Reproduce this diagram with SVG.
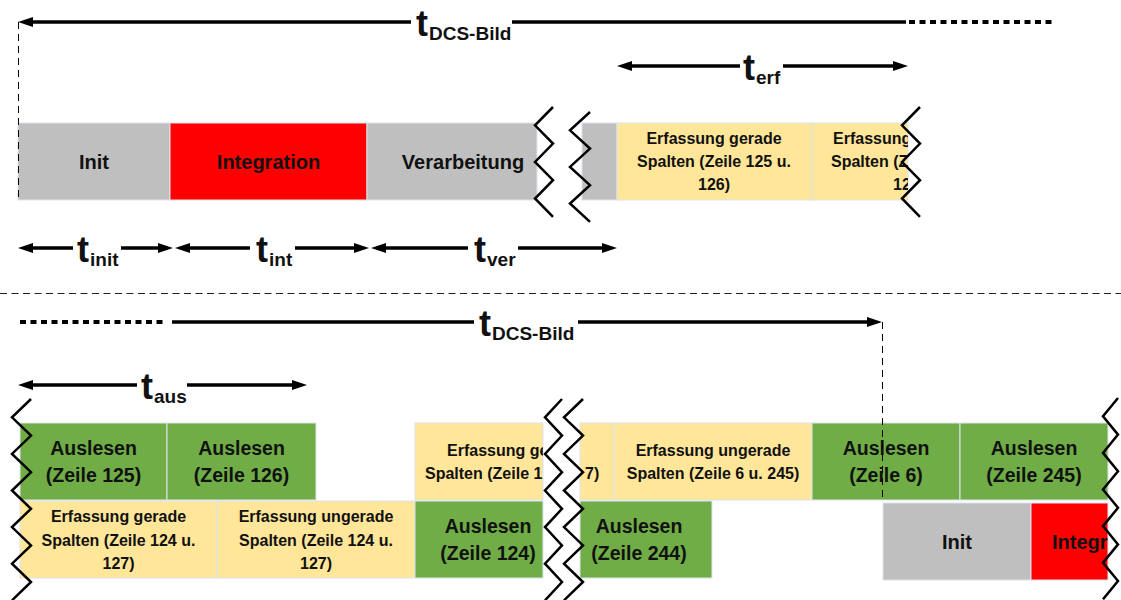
<svg xmlns="http://www.w3.org/2000/svg" width="1121" height="600" viewBox="0 0 1121 600">
<defs>
<style>
.box{stroke:#DCE3EE;stroke-width:1}
.gray{fill:#BFBFBF}.red{fill:#FF0000}.yel{fill:#FFE699}.grn{fill:#70AD47}
text{font-family:"Liberation Sans",Arial,sans-serif;font-weight:bold;fill:#111}
.c{text-anchor:middle}
.f20{font-size:20px}.f19{font-size:19.5px}.f16{font-size:16px}
.lt{font-size:36px}.ls{font-size:19px}
.dim{stroke:#000;stroke-width:3.5;fill:none}
.dot{stroke:#000;stroke-width:4;stroke-dasharray:6 4.5;fill:none}
.zz{fill:none;stroke:#000;stroke-width:2.5}
.vdash{stroke:#000;stroke-width:1;stroke-dasharray:7 5;fill:none}
.sep{stroke:#222;stroke-width:1;stroke-dasharray:7 4.5;fill:none}
</style>
<marker id="ah" viewBox="0 0 15 10" refX="2" refY="5" markerWidth="15" markerHeight="10" markerUnits="userSpaceOnUse" orient="auto-start-reverse"><path d="M0,0 L15,5 L0,10 z" fill="#000"/></marker>
<clipPath id="cErf2"><rect x="812" y="123" width="96" height="77"/></clipPath>
<clipPath id="cErfL"><rect x="415" y="423" width="128" height="77"/></clipPath>
<clipPath id="cErfR"><rect x="580" y="423" width="34" height="77"/></clipPath>
<clipPath id="cInt2"><rect x="1031" y="503" width="77" height="77"/></clipPath>
</defs>
<rect width="1121" height="600" fill="#fff"/>

<!-- top row -->
<g id="init1"><rect class="box gray" x="18" y="123" width="152" height="77"/><text class="c f20" x="94" y="169">Init</text></g>
<g id="integration1"><rect class="box red" x="170" y="123" width="197" height="77"/><text class="c f20" x="268.5" y="169">Integration</text></g>
<g id="verarbeitung"><rect class="box gray" x="367" y="123" width="170" height="77"/><text class="c f20" x="463" y="169">Verarbeitung</text></g>
<g id="graypiece"><rect class="box gray" x="582" y="123" width="35" height="77"/></g>
<g id="erf125"><rect class="box yel" x="617" y="123" width="195" height="77"/>
<text class="c f16" x="714" y="143.5">Erfassung gerade</text>
<text class="c f16" x="714" y="166.5">Spalten (Zeile 125 u.</text>
<text class="c f16" x="714" y="189.5">126)</text></g>
<g id="erf125u"><rect class="box yel" x="812" y="123" width="96" height="77"/>
<g clip-path="url(#cErf2)">
<text class="f16" x="833" y="143.5">Erfassung</text>
<text class="f16" x="831" y="166.5">Spalten (Z</text>
<text class="f16" x="893" y="189.5">12</text></g></g>

<!-- bottom row 1 -->
<g id="aus125"><rect class="box grn" x="20" y="423" width="147" height="77"/><text class="c f19" x="93.5" y="455">Auslesen</text><text class="c f19" x="93.5" y="482">(Zeile 125)</text></g>
<g id="aus126"><rect class="box grn" x="167" y="423" width="149" height="77"/><text class="c f19" x="241.5" y="455">Auslesen</text><text class="c f19" x="241.5" y="482">(Zeile 126)</text></g>
<g id="erfL"><rect class="box yel" x="415" y="423" width="128" height="77"/>
<g clip-path="url(#cErfL)"><text class="f16" x="447" y="455.5">Erfassung ge</text><text class="f16" x="425" y="479">Spalten (Zeile 1</text></g></g>
<g id="erfR"><rect class="box yel" x="580" y="423" width="34" height="77"/>
<g clip-path="url(#cErfR)"><text class="f16" x="585" y="479">7)</text></g></g>
<g id="erf6u"><rect class="box yel" x="614" y="423" width="198" height="77"/><text class="c f16" x="713" y="455.5">Erfassung ungerade</text><text class="c f16" x="713" y="479">Spalten (Zeile 6 u. 245)</text></g>
<g id="aus6"><rect class="box grn" x="812" y="423" width="148" height="77"/><text class="c f19" x="886" y="455">Auslesen</text><text class="c f19" x="886" y="482">(Zeile 6)</text></g>
<g id="aus245"><rect class="box grn" x="960" y="423" width="148" height="77"/><text class="c f19" x="1034" y="455">Auslesen</text><text class="c f19" x="1034" y="482">(Zeile 245)</text></g>

<!-- bottom row 2 -->
<g id="erf124g"><rect class="box yel" x="20" y="501" width="197" height="77"/>
<text class="c f16" x="118.5" y="522">Erfassung gerade</text><text class="c f16" x="118.5" y="545.5">Spalten (Zeile 124 u.</text><text class="c f16" x="118.5" y="569">127)</text></g>
<g id="erf124u"><rect class="box yel" x="217" y="501" width="198" height="77"/>
<text class="c f16" x="316" y="522">Erfassung ungerade</text><text class="c f16" x="316" y="545.5">Spalten (Zeile 124 u.</text><text class="c f16" x="316" y="569">127)</text></g>
<g id="aus124"><rect class="box grn" x="415" y="501" width="128" height="77"/><text class="c f19" x="488" y="533">Auslesen</text><text class="c f19" x="488" y="560">(Zeile 124)</text></g>
<g id="aus244"><rect class="box grn" x="580" y="501" width="132" height="77"/><text class="c f19" x="639" y="533">Auslesen</text><text class="c f19" x="639" y="560">(Zeile 244)</text></g>
<g id="init2"><rect class="box gray" x="883" y="503" width="148" height="77"/><text class="c f20" x="957" y="548.5">Init</text></g>
<g id="integration2"><rect class="box red" x="1031" y="503" width="77" height="77"/><g clip-path="url(#cInt2)"><text class="f20" x="1052" y="548.5">Integr</text></g></g>

<!-- break marks -->
<g id="breaks">
<polyline class="zz" points="553,107 535,125.3 553,143.6 535,161.9 553,180.2 535,198.5 553,216.8"/>
<polyline class="zz" points="590,112 570,130.3 590,148.6 570,166.9 590,185.2 570,203.5 590,221.8"/>
<polyline class="zz" points="920,107 902,125.3 920,143.6 902,161.9 920,180.2 902,198.5 920,216.8"/>
<polyline class="zz" points="31,399 12,417.3 31,435.6 12,453.9 31,472.2 12,490.5 31,508.8 12,527.1 31,545.4 12,563.7 31,582 12,600.3"/>
<polyline class="zz" points="562,399 545,417.3 562,435.6 545,453.9 562,472.2 545,490.5 562,508.8 545,527.1 562,545.4 545,563.7 562,582 545,600.3"/>
<polyline class="zz" points="583,399 564,417.3 583,435.6 564,453.9 583,472.2 564,490.5 583,508.8 564,527.1 583,545.4 564,563.7 583,582 564,600.3"/>
<polyline class="zz" points="1118,398 1103,416.3 1118,434.6 1103,452.9 1118,471.2 1103,489.5 1118,507.8 1103,526.1 1118,544.4 1103,562.7 1118,581 1103,599.3"/>
</g>

<!-- connectors / dimension lines -->
<g id="connectors">
<line class="sep" x1="0" y1="293.5" x2="1121" y2="293.5"/>
<line class="vdash" x1="18.5" y1="22" x2="18.5" y2="201"/>
<line class="vdash" x1="882.5" y1="322" x2="882.5" y2="500"/>
<path class="dim" d="M31,22 L411,22" marker-start="url(#ah)"/>
<path class="dim" d="M512,22 L906,22"/>
<path class="dot" d="M909,22 L1055,22"/>
<path class="dim" d="M630,66 L740,66" marker-start="url(#ah)"/>
<path class="dim" d="M783,66 L895,66" marker-end="url(#ah)"/>
<path class="dim" d="M31,248 L73,248" marker-start="url(#ah)"/>
<path class="dim" d="M121,248 L160,248" marker-end="url(#ah)"/>
<path class="dim" d="M188,248 L250,248" marker-start="url(#ah)"/>
<path class="dim" d="M295,248 L356,248" marker-end="url(#ah)"/>
<path class="dim" d="M384,248 L468,248" marker-start="url(#ah)"/>
<path class="dim" d="M518,248 L604,248" marker-end="url(#ah)"/>
<path class="dot" d="M20,322 L165,322"/>
<path class="dim" d="M172,322 L474,322"/>
<path class="dim" d="M578,322 L869,322" marker-end="url(#ah)"/>
<path class="dim" d="M31,385 L137,385" marker-start="url(#ah)"/>
<path class="dim" d="M187,385 L294,385" marker-end="url(#ah)"/>
</g>

<!-- labels -->
<g id="labels">
<text x="416" y="36"><tspan class="lt">t</tspan><tspan class="ls" dx="1" dy="4">DCS-Bild</tspan></text>
<text x="743" y="80"><tspan class="lt">t</tspan><tspan class="ls" dx="1" dy="4">erf</tspan></text>
<text x="77" y="262"><tspan class="lt">t</tspan><tspan class="ls" dx="1" dy="4">init</tspan></text>
<text x="256" y="262"><tspan class="lt">t</tspan><tspan class="ls" dx="1" dy="4">int</tspan></text>
<text x="474" y="262"><tspan class="lt">t</tspan><tspan class="ls" dx="1" dy="4">ver</tspan></text>
<text x="479" y="336"><tspan class="lt">t</tspan><tspan class="ls" dx="1" dy="4">DCS-Bild</tspan></text>
<text x="141" y="399"><tspan class="lt">t</tspan><tspan class="ls" dx="1" dy="4">aus</tspan></text>
</g>
</svg>
